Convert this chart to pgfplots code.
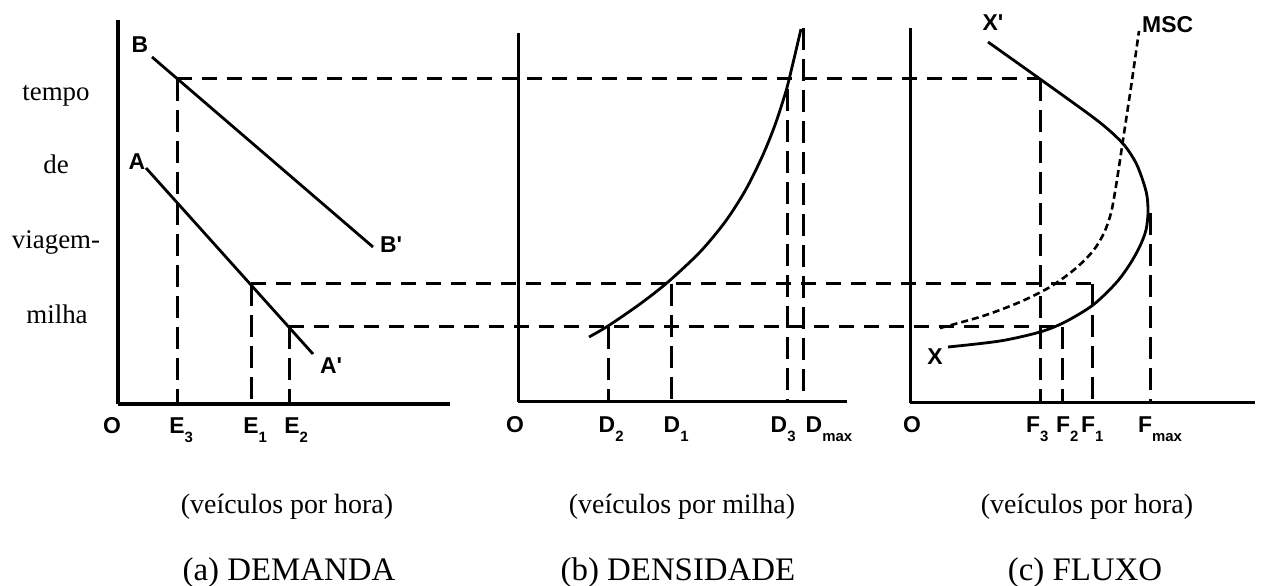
\documentclass[border=0pt]{standalone}
\usepackage{fontspec}
\setmainfont{Liberation Serif}
\newfontfamily\lab{Liberation Sans}
\usepackage{pgfplots}
\pgfplotsset{compat=1.18}
\newcommand{\sub}[2]{#1\rlap{\raisebox{-9bp}{\fontsize{15}{15}\selectfont #2}}}
\begin{document}
\begin{tikzpicture}
\path[use as bounding box] (0,0) rectangle (1262bp,586bp);
\pgfplotsset{
  panel/.style={x=1bp,y=1bp,anchor=south west,axis x line=bottom,axis y line=left,
    axis line style={-,line width=3bp,black},xtick=\empty,ytick=\empty,clip=false},
  hd/.style={line width=3bp, dash pattern=on 15bp off 10bp, black},
  vd/.style={line width=3bp, dash pattern=on 22bp off 9bp, black},
  md/.style={line width=2.6bp, dash pattern=on 7bp off 4bp, black, smooth},
  cv/.style={line width=2.8bp, black, smooth},
}
\tikzset{
  lbl/.style={font=\lab\bfseries\fontsize{23}{23}\selectfont, inner sep=0pt, anchor=base},
  let/.style={font=\lab\bfseries\fontsize{23}{23}\selectfont, inner sep=0pt, anchor=center},
  yl/.style={font=\fontsize{27}{27}\selectfont, inner sep=0pt, anchor=base},
  sl/.style={font=\fontsize{28}{28}\selectfont, inner sep=0pt, anchor=base},
  tl/.style={font=\fontsize{33}{33}\selectfont, inner sep=0pt, anchor=base},
}
% ---------------- (a) DEMANDA ----------------
\begin{axis}[panel, xmin=118, xmax=450, ymin=182, ymax=566, at={(118bp,182bp)}]
\addplot[hd] coordinates {(177,507) (1040,507)};
\addplot[hd] coordinates {(251,302) (1092,302)};
\addplot[hd] coordinates {(289,259) (1062,259)};
\addplot[vd] coordinates {(177,507) (177,182)};
\addplot[vd] coordinates {(251,302) (251,182)};
\addplot[vd] coordinates {(289,259) (289,182)};
\addplot[cv] coordinates {(152,529) (373,339)};
\addplot[cv] coordinates {(146,418) (313,232)};
\node[let] at (axis cs:140,541) {B};
\node[let] at (axis cs:137,424) {A};
\node[let] at (axis cs:391,341) {B'};
\node[let] at (axis cs:331,220) {A'};
\node[lbl] at (axis cs:112,153) {O};
\node[lbl] at (axis cs:177,153) {\sub{E}{3}};
\node[lbl] at (axis cs:251,153) {\sub{E}{1}};
\node[lbl] at (axis cs:292,153) {\sub{E}{2}};
\node[yl] at (axis cs:56,486) {tempo};
\node[yl] at (axis cs:56,413) {de};
\node[yl] at (axis cs:56,338) {viagem-};
\node[yl] at (axis cs:57,263) {milha};
\node[sl] at (axis cs:287,73) {(veículos por hora)};
\node[sl] at (axis cs:682,73) {(veículos por milha)};
\node[sl] at (axis cs:1087,73) {(veículos por hora)};
\node[tl] at (axis cs:289,6) {(a) DEMANDA};
\node[tl] at (axis cs:678,6) {(b) DENSIDADE};
\node[tl] at (axis cs:1085,6) {(c) FLUXO};
\end{axis}
% ---------------- (b) DENSIDADE ----------------
\begin{axis}[panel, xmin=518, xmax=847, ymin=184, ymax=553, at={(518bp,184bp)}]
\addplot[vd] coordinates {(608,259) (608,184)};
\addplot[vd] coordinates {(671,302) (671,184)};
\addplot[vd] coordinates {(787,497) (787,184)};
\addplot[vd] coordinates {(803,558) (803,184)};
\addplot[cv] coordinates {(589,249) (608,260) (640,282) (668,304) (700,334) (725,364) (745,395) (762,429) (775,461) (786,495) (793,523) (801,557)};
\node[lbl] at (axis cs:515,153) {O};
\node[lbl] at (axis cs:607,153) {\sub{D}{2}};
\node[lbl] at (axis cs:672,153) {\sub{D}{1}};
\node[lbl] at (axis cs:779,153) {\sub{D}{3}};
\node[lbl] at (axis cs:814,153) {\sub{D}{max}};
\end{axis}
% ---------------- (c) FLUXO ----------------
\begin{axis}[panel, xmin=910, xmax=1255, ymin=183, ymax=558, at={(910bp,183bp)}]
\addplot[vd] coordinates {(1040,507) (1040,183)};
\addplot[vd] coordinates {(1062,259) (1062,183)};
\addplot[vd] coordinates {(1092,302) (1092,183)};
\addplot[vd] coordinates {(1150,373) (1150,183)};
\addplot[cv] coordinates {(988,544) (1040,507) (1090,471) (1110,455) (1125,440) (1136,423) (1143,405) (1147,390) (1148,373) (1146,356) (1140,340) (1130,322) (1116,303) (1093,281) (1065,264) (1040,254) (1000,245) (948,239)};
\addplot[md] coordinates {(940,258) (983,270) (1020,284) (1050,299) (1075,317) (1093,335) (1104,353) (1111,373) (1116,400) (1123,446) (1131,499) (1139,555)};
\node[let] at (axis cs:993,563) {X'};
\node[let] at (axis cs:935,229) {X};
\node[let, anchor=west] at (axis cs:1142,561) {MSC};
\node[lbl] at (axis cs:912,153) {O};
\node[lbl] at (axis cs:1033,153) {\sub{F}{3}};
\node[lbl] at (axis cs:1063,153) {\sub{F}{2}};
\node[lbl] at (axis cs:1088,153) {\sub{F}{1}};
\node[lbl] at (axis cs:1145,153) {\sub{F}{max}};
\end{axis}
\end{tikzpicture}
\end{document}
